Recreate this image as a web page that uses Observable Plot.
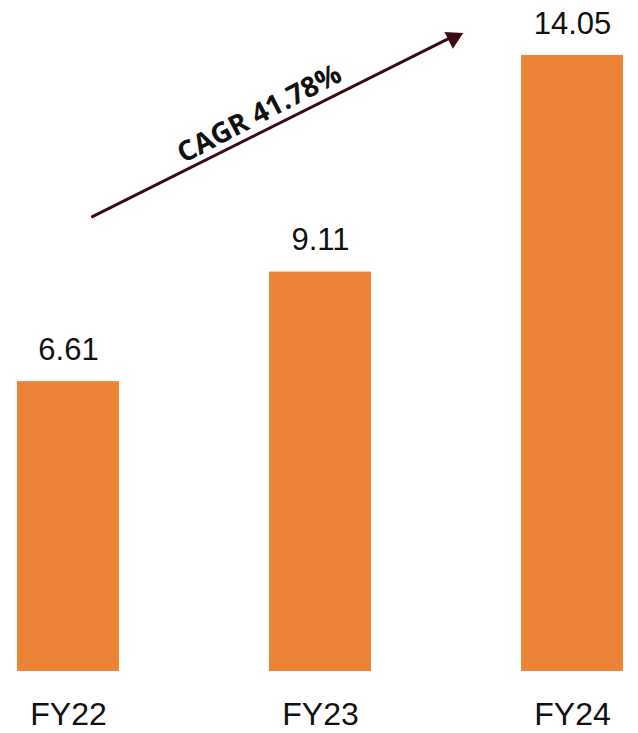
<!DOCTYPE html>
<html>
<head>
<meta charset="utf-8">
<script src="https://cdn.jsdelivr.net/npm/d3@7"></script>
<script src="https://cdn.jsdelivr.net/npm/@observablehq/plot@0.6"></script>
<style>
  html, body { margin: 0; padding: 0; background: #fff; }
  #chart { width: 638px; height: 733px; }
</style>
</head>
<body>
<div id="chart"></div>
<script>
const categories = ["FY22", "FY23", "FY24"];
const values = [6.61, 9.11, 14.05];
const cagrText = "CAGR 41.78%";
// arrow annotation anchored to categories/values
const arrowFrom = ["FY22", 10.10];
const arrowTo = ["FY24", 15.85];
const arrowHeadAt = ["FY24", 14.45];
const cagrAt = ["FY23", 12.72];

const data = categories.map((c, i) => ({cat: c, value: values[i]}));
const arrowData = [{x1: arrowFrom[0], y1: arrowFrom[1], x2: arrowTo[0], y2: arrowTo[1]}];
const headData = [{cat: arrowHeadAt[0], value: arrowHeadAt[1]}];
const cagrData = [{cat: cagrAt[0], value: cagrAt[1], label: cagrText}];

const orange = "#ED8337";
const maroon = "#3a0b14";

const chart = Plot.plot({
  width: 638,
  height: 733,
  marginLeft: 16,
  marginRight: 15,
  marginTop: 0,
  marginBottom: 62,
  x: {domain: categories, paddingInner: 0.596, paddingOuter: 0, axis: null},
  y: {domain: [0, 14.05], range: [671, 55], axis: null, clamp: false},
  style: {fontFamily: "'Liberation Sans', Arial, sans-serif", background: "#fff", overflow: "visible"},
  marks: [
    Plot.barY(data, {x: "cat", y: "value", fill: orange}),
    Plot.text(data, {x: "cat", y: "value", text: d => d.value.toFixed(2), lineAnchor: "bottom", dy: -22, fontSize: 31, fill: "#111"}),
    Plot.text(categories, {x: d => d, text: d => d, frameAnchor: "bottom", lineAnchor: "top", dy: 31, fontSize: 32, fill: "#111"}),
    Plot.arrow(arrowData, {x1: "x1", y1: "y1", x2: "x2", y2: "y2", insetStart: 26.8, insetEnd: 133, headLength: 0, stroke: maroon, strokeWidth: 3}),
    Plot.dot(headData, {x: "cat", y: "value", dx: -119, symbol: "triangle2", r: 9, rotate: 63.5, fill: maroon, stroke: "none"}),
    Plot.text(cagrData, {x: "cat", y: "value", text: "label", dx: -61, rotate: -27.5, fontSize: 28, fontWeight: "bold", fontFamily: "'Open Sans', sans-serif", fill: "#111"})
  ]
});
document.getElementById("chart").appendChild(chart);
</script>
</body>
</html>
